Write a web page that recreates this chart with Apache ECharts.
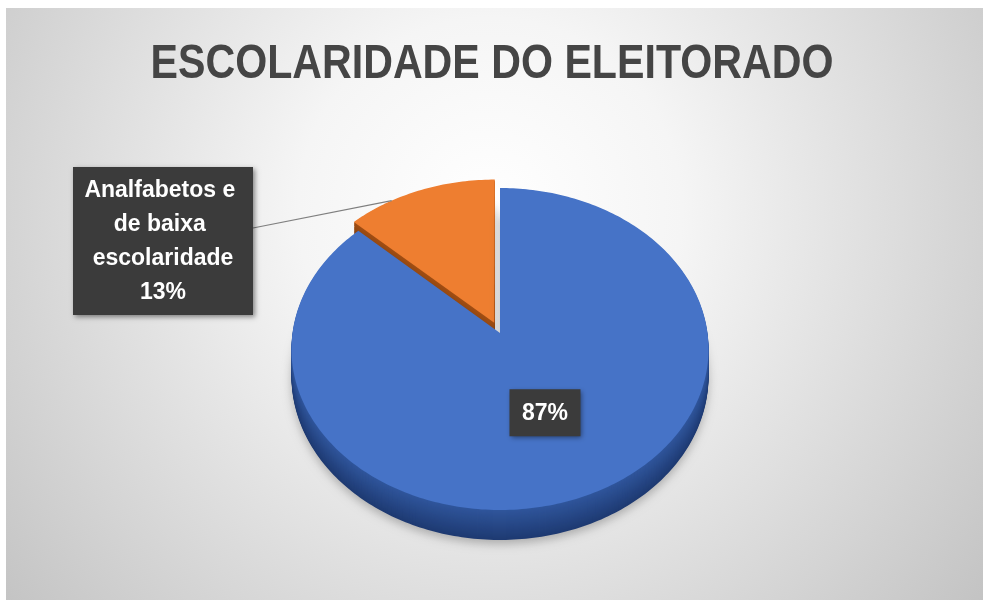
<!DOCTYPE html>
<html><head><meta charset="utf-8">
<script src="https://cdn.jsdelivr.net/npm/echarts@6/dist/echarts.min.js"></script>
<style>html,body{margin:0;padding:0;background:#fff}#c{width:983px;height:601px}</style>
</head><body><div id="c"></div>
<script>
// ---- data ----
const titleText = 'ESCOLARIDADE DO ELEITORADO';
const categories = ['Demais eleitores', 'Analfabetos e de baixa escolaridade'];
const values = [87, 13];
const sliceColors = ['#4673C7', '#EE7E30'];
const wallTopColors = ['#30569C', '#A24F14'];
const wallBottomColors = ['#1E3A72', '#6E340A'];

// ---- 3D pie geometry (layout) ----
const G = {cx: 500, cy: 333, A: 207.5, B: 159.4, p: 0.0994, H: 27, explode: 0.07, layers: 30};

function proj(u, v, h) {
  const w = 1 / (1 - G.p * v);
  return [G.cx + G.A * u * w, G.cy + G.B * v * w + G.H * h * w];
}
function hex2rgb(h){h=h.replace('#','');return [0,2,4].map(i=>parseInt(h.substr(i,2),16));}
function lerpColor(c1,c2,t){const a=hex2rgb(c1),b=hex2rgb(c2);return 'rgb('+a.map((x,i)=>Math.round(x+(b[i]-x)*t)).join(',')+')';}

function slicePoly(a0, a1, eu, ev, h) {
  const pts = [proj(eu, ev, h)];
  const n = Math.max(4, Math.ceil((a1 - a0) / (Math.PI / 180)));
  for (let i = 0; i <= n; i++) {
    const a = a0 + (a1 - a0) * i / n;
    pts.push(proj(Math.sin(a) + eu, -Math.cos(a) + ev, h));
  }
  return pts;
}

const total = values.reduce((s, v) => s + v, 0);

function renderItem(params, api) {
  const idx = params.dataIndex;
  let before = 0;
  for (let i = 0; i < idx; i++) before += values[i];
  const val = api.value(0);
  const a0 = before / total * Math.PI * 2;
  const a1 = (before + val) / total * Math.PI * 2;
  const mid = (a0 + a1) / 2;
  const d = idx === 1 ? G.explode : 0;
  const eu = d * Math.sin(mid), ev = -d * Math.cos(mid);
  const base = idx === 1 ? 0 : 100;
  const children = [];
  const N = G.layers;
  for (let k = N; k >= 1; k--) {
    const h = k / N;
    const st = {fill: lerpColor(wallTopColors[idx], wallBottomColors[idx], h)};
    if (k === N) { st.shadowBlur = 10; st.shadowColor = 'rgba(0,0,0,0.25)'; st.shadowOffsetY = 4; }
    children.push({type: 'polygon', z2: base + (N - k), shape: {points: slicePoly(a0, a1, eu, ev, h)}, style: st});
  }
  children.push({type: 'polygon', z2: base + N + 1, shape: {points: slicePoly(a0, a1, eu, ev, 0)}, style: {fill: sliceColors[idx]}});

  const pct = Math.round(val / total * 100) + '%';
  const labelFont = {fontFamily: '"Liberation Sans", Arial, sans-serif', fontWeight: 'bold', fontSize: 23};
  if (idx === 0) {
    const r = 0.52;
    const p = proj(r * Math.sin(mid), -r * Math.cos(mid), 0);
    children.push({type: 'rect', z2: 300, shape: {x: p[0] - 35.5, y: p[1] - 23.5, width: 71, height: 47},
      style: {fill: '#3B3B3B', shadowBlur: 5, shadowColor: 'rgba(0,0,0,0.45)', shadowOffsetX: 2, shadowOffsetY: 2}});
    children.push({type: 'text', z2: 301, style: Object.assign({x: p[0], y: p[1] + 1, text: pct, fill: '#ffffff', align: 'center', verticalAlign: 'middle'}, labelFont)});
  } else {
    const box = {x: 73, y: 167, width: 180, height: 148};
    const at = a0 + (a1 - a0) * 0.3;
    const end = proj(Math.sin(at) + eu, -Math.cos(at) + ev, 0);
    children.push({type: 'line', z2: 299, shape: {x1: box.x + box.width, y1: 228, x2: end[0], y2: end[1]},
      style: {stroke: '#7F7F7F', lineWidth: 1.2}});
    children.push({type: 'rect', z2: 300, shape: box,
      style: {fill: '#3B3B3B', shadowBlur: 5, shadowColor: 'rgba(0,0,0,0.45)', shadowOffsetX: 2, shadowOffsetY: 2}});
    children.push({type: 'text', z2: 301, style: Object.assign({
      x: box.x + box.width / 2, y: box.y + box.height / 2 + 1,
      text: categories[idx] + '\n' + pct, width: 165, overflow: 'break', lineHeight: 34,
      fill: '#ffffff', align: 'center', verticalAlign: 'middle'}, labelFont)});
  }
  return {type: 'group', children};
}

// title: condensed to the reference width (layout only)
const titleFont = 'bold 49px "Liberation Sans", Arial, sans-serif';
const mctx = document.createElement('canvas').getContext('2d');
mctx.font = titleFont;
const titleScaleX = Math.min(1, 683 / mctx.measureText(titleText).width);

const chart = echarts.init(document.getElementById('c'), null, {renderer: 'canvas'});
chart.setOption({
  animation: false,
  backgroundColor: '#ffffff',
  graphic: [{
    type: 'rect', z: -10, silent: true,
    shape: {x: 6, y: 8, width: 977, height: 592},
    style: {fill: {type: 'radial', x: 490, y: 210, r: 640, global: true,
      colorStops: [{offset: 0, color: '#ffffff'}, {offset: 0.3, color: '#f5f5f5'}, {offset: 1, color: '#c2c2c2'}]}}
  }, {
    type: 'text', z: 10, x: 492, y: 64, scaleX: titleScaleX,
    style: {text: titleText, x: 0, y: 0, align: 'center', verticalAlign: 'middle',
      font: titleFont, fill: '#454545'}
  }],
  series: [{
    type: 'custom', coordinateSystem: 'none', renderItem: renderItem,
    data: values.map((v, i) => ({value: v, name: categories[i]}))
  }]
});
</script></body></html>
